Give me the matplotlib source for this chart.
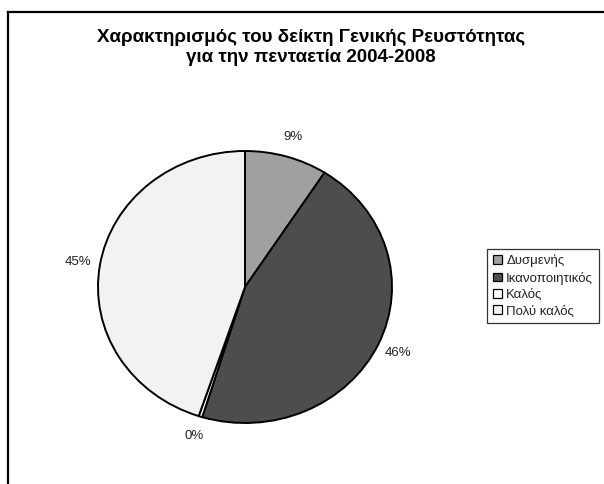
import matplotlib.pyplot as plt
from matplotlib.patches import Patch
from matplotlib.lines import Line2D

plt.rcParams['font.family'] = ['Liberation Sans', 'DejaVu Sans']

# data
categories = ["Δυσμενής", "Ικανοποιητικός", "Καλός", "Πολύ καλός"]
shares = [9.1, 45.6, 0.4, 44.9]
colours = ["#a0a0a0", "#4d4d4d", "#ffffff", "#f2f2f2"]
title = "Χαρακτηρισμός του δείκτη Γενικής Ρευστότητας\nγια την πενταετία 2004-2008"

W, H = 604, 484
fig = plt.figure(figsize=(W/100, H/100), dpi=100)

# chart frame (right and bottom are cut off in the original)
fig.add_artist(Line2D([8/W, 8/W], [0, 1-12/H], color="black", lw=1.6))
fig.add_artist(Line2D([8/W, 1], [1-12/H, 1-12/H], color="black", lw=1.6))

fig.text(311/W, 1-47.5/H, title, ha="center", va="center",
         fontsize=13.5, fontweight="bold", linespacing=1.2)

# pie centre and radii in pixels
cx, cy, rx, ry = 245, 287, 147, 136
ax = fig.add_axes([(cx-rx)/W, (H-cy-ry)/H, 2*rx/W, 2*ry/H])
wedges, texts, autotexts = ax.pie(shares, colors=colours, startangle=90, counterclock=False,
       autopct=lambda p: "%d%%" % round(p), pctdistance=1.15,
       wedgeprops=dict(edgecolor="black", linewidth=1.4),
       textprops=dict(fontsize=9.5, color="#222222"))
ax.set_xlim(-1, 1)
ax.set_ylim(-1, 1)
ax.set_aspect("auto")

handles = [Patch(facecolor=c, edgecolor="black", linewidth=0.9) for c in colours]
leg = fig.legend(handles, categories, loc="upper left", bbox_to_anchor=(487/W, 1-249/H),
                 fontsize=9.5, frameon=True, fancybox=False, edgecolor="black",
                 handlelength=0.65, handleheight=0.65, handletextpad=0.35,
                 labelspacing=0.32, borderpad=0.45, borderaxespad=0)
leg.get_frame().set_linewidth(0.9)
for t in leg.get_texts():
    t.set_color("#222222")

fig.savefig("out.png", dpi=100)
